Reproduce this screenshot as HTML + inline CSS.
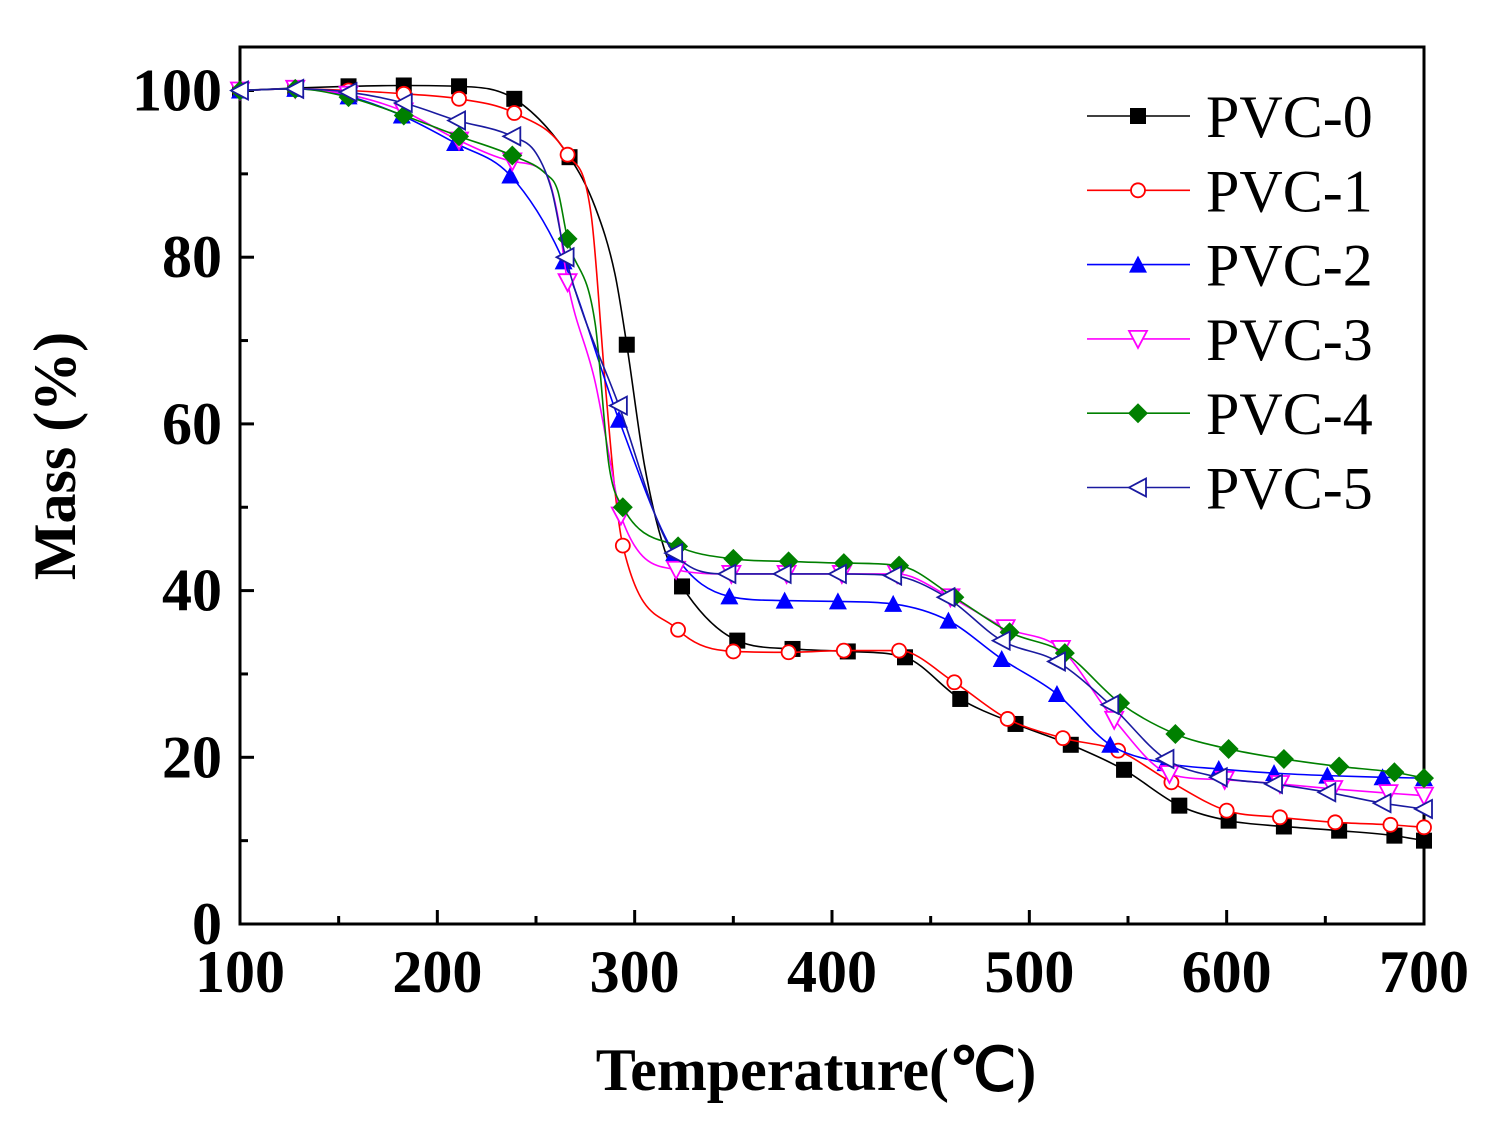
<!DOCTYPE html>
<html><head><meta charset="utf-8"><style>
html,body{margin:0;padding:0;background:#fff;}
svg{display:block;font-family:"Liberation Serif",serif;}
</style></head><body>
<svg id="chart" width="1496" height="1133" viewBox="0 0 1496 1133" xmlns="http://www.w3.org/2000/svg"></svg>
<script>
const xTicks=[100,200,300,400,500,600,700];
const yTicks=[0,20,40,60,80,100];
const seriesNames=["PVC-0","PVC-1","PVC-2","PVC-3","PVC-4","PVC-5"];
const pvc0T=[100,128,155,183,211,239,267,296,324,352,380,408,437,465,493,521,548,576,601,629,657,685,700];
const pvc0M=[100,100.3,100.5,100.6,100.5,99,92,69.5,40.5,34,33,32.7,32,27,24,21.5,18.5,14.2,12.4,11.7,11.2,10.6,10];
const pvc0ExT=[280,290,305,315];
const pvc0ExM=[86,78,55,45];
const pvc1T=[100,128,155,183,211,239,266,294,322,350,378,406,434,462,489,517,545,572,600,627,655,683,700];
const pvc1M=[100,100.2,100,99.6,99,97.3,92.3,45.4,35.3,32.7,32.6,32.8,32.8,29,24.6,22.3,20.8,17,13.6,12.8,12.2,11.9,11.6];
const pvc1ExT=[278,285,290];
const pvc1ExM=[85,65,52];
const pvc2T=[100,128,155,182,209,237,264,292,320,348,376,403,431,459,486,514,541,569,596,624,651,679,700];
const pvc2M=[100,100.2,99.3,97,93.7,89.8,79.5,60.5,44.5,39.3,38.8,38.7,38.4,36.4,31.8,27.6,21.5,19.3,18.6,18.1,17.8,17.6,17.5];
const pvc2ExT=[];
const pvc2ExM=[];
const pvc3T=[100,128,155,183,211,238,266,293,321,349,377,405,433,460,488,516,543,571,599,627,654,682,700];
const pvc3M=[100,100.2,99.5,97.5,94,91.5,77,49,42.5,42,42,42,42,39.2,35.5,33,24.5,18,17.3,16.8,16.2,15.7,15.4];
const pvc3ExT=[255,261,280,288];
const pvc3ExM=[90,85,65,55];
const pvc4T=[100,128,155,183,211,238,266,294,322,350,378,406,434,462,490,518,546,574,601,629,657,685,700];
const pvc4M=[100,100.2,99.2,97,94.5,92.2,82.2,50,45.3,43.8,43.5,43.3,43,39.2,35,32.5,26.5,22.8,21,19.8,18.9,18.2,17.5];
const pvc4ExT=[255,261,280,287];
const pvc4ExM=[90,88,72,55];
const pvc5T=[100,128,155,183,210,238,265,292,320,347,375,403,431,458,486,514,541,569,596,624,651,679,700];
const pvc5M=[100,100.2,99.8,98.5,96.4,94.5,80,62.2,44.5,42,42,42,41.8,39.2,34,31.5,26.3,19.8,17.6,16.8,15.8,14.5,13.8];
const pvc5ExT=[250,258];
const pvc5ExM=[92.5,88];

const NS="http://www.w3.org/2000/svg";
const svg=document.getElementById('chart');
const X0=240,X1=1424,Y0=924,YT=47;
const xs=t=>X0+(t-100)*(X1-X0)/600;
const ys=m=>Y0-m*(Y0-90.5)/100;
function mk(tag,attrs,parent){const e=document.createElementNS(NS,tag);for(const k in attrs)e.setAttribute(k,attrs[k]);(parent||svg).appendChild(e);return e;}

const frame=mk('rect',{x:X0,y:YT,width:X1-X0,height:Y0-YT,fill:'none',stroke:'#000','stroke-width':3});



for(let t=100;t<=700;t+=50){const major=(t%100===0);const l=mk('line',{x1:xs(t),x2:xs(t),y1:Y0,y2:Y0-(major?14:8),stroke:'#000','stroke-width':3});

}
xTicks.forEach(t=>{const tx=mk('text',{x:xs(t),y:992,'text-anchor':'middle','font-size':60,'font-weight':'bold'});tx.textContent=t;

});
for(let m=0;m<=100;m+=10){const major=(m%20===0);const l=mk('line',{x1:X0,x2:X0+(major?14:8),y1:ys(m),y2:ys(m),stroke:'#000','stroke-width':3});

}
yTicks.forEach(m=>{const tx=mk('text',{x:222,y:ys(m)+20,'text-anchor':'end','font-size':60,'font-weight':'bold'});tx.textContent=m;

});
const xt=mk('text',{x:816,y:1090,'text-anchor':'middle','font-size':60,'font-weight':'bold'});xt.textContent='Temperature(℃)';


const yt=mk('text',{x:0,y:0,'text-anchor':'middle','font-size':60,'font-weight':'bold',transform:'translate(75,456) rotate(-90)'});yt.textContent='Mass (%)';



function monoPath(px,py){const n=px.length;const d=[],m=new Array(n);for(let i=0;i<n-1;i++)d.push((py[i+1]-py[i])/(px[i+1]-px[i]));
m[0]=d[0];m[n-1]=d[n-2];for(let i=1;i<n-1;i++){m[i]=(d[i-1]*d[i]<=0)?0:(d[i-1]+d[i])/2;}
for(let i=0;i<n-1;i++){if(d[i]===0){m[i]=0;m[i+1]=0;continue;}const a=m[i]/d[i],b=m[i+1]/d[i],s=a*a+b*b;if(s>9){const t=3/Math.sqrt(s);m[i]=t*a*d[i];m[i+1]=t*b*d[i];}}
let p='M'+px[0]+','+py[0];for(let i=0;i<n-1;i++){const h=px[i+1]-px[i];p+=' C'+(px[i]+h/3)+','+(py[i]+m[i]*h/3)+' '+(px[i+1]-h/3)+','+(py[i+1]-m[i+1]*h/3)+' '+px[i+1]+','+py[i+1];}return p;}

function marker(kind,cx,cy,color,parent){const r=8;let e;
if(kind==='square')e=mk('rect',{x:cx-r,y:cy-r,width:2*r,height:2*r,fill:color},parent);
else if(kind==='circle')e=mk('circle',{cx:cx,cy:cy,r:r-1,fill:'#fff',stroke:color,'stroke-width':1.8},parent);
else if(kind==='up')e=mk('polygon',{points:`${cx},${cy-r-1} ${cx+r+1},${cy+r} ${cx-r-1},${cy+r}`,fill:color},parent);
else if(kind==='down')e=mk('polygon',{points:`${cx-r-1},${cy-r} ${cx+r+1},${cy-r} ${cx},${cy+r+1}`,fill:'#fff',stroke:color,'stroke-width':1.8},parent);
else if(kind==='diamond')e=mk('polygon',{points:`${cx},${cy-r-2} ${cx+r+2},${cy} ${cx},${cy+r+2} ${cx-r-2},${cy}`,fill:color},parent);
else e=mk('polygon',{points:`${cx-r-1},${cy} ${cx+r},${cy-r-1} ${cx+r},${cy+r+1}`,fill:'#fff',stroke:color,'stroke-width':1.8},parent);
return e;}

const series=[
 {T:pvc0T,M:pvc0M,eT:pvc0ExT,eM:pvc0ExM,c:'#000000',k:'square'},
 {T:pvc1T,M:pvc1M,eT:pvc1ExT,eM:pvc1ExM,c:'#ff0000',k:'circle'},
 {T:pvc2T,M:pvc2M,eT:pvc2ExT,eM:pvc2ExM,c:'#0000ff',k:'up'},
 {T:pvc3T,M:pvc3M,eT:pvc3ExT,eM:pvc3ExM,c:'#ff00ff',k:'down'},
 {T:pvc4T,M:pvc4M,eT:pvc4ExT,eM:pvc4ExM,c:'#008000',k:'diamond'},
 {T:pvc5T,M:pvc5M,eT:pvc5ExT,eM:pvc5ExM,c:'#1a1aa0',k:'left'}];
series.forEach((s,si)=>{
 const g=mk('g',{});
 
 
 const pts=s.T.map((t,i)=>[t,s.M[i]]).concat(s.eT.map((t,i)=>[t,s.eM[i]])).sort((a,b)=>a[0]-b[0]);
 const path=mk('path',{d:monoPath(pts.map(p=>xs(p[0])),pts.map(p=>ys(p[1]))),fill:'none',stroke:s.c,'stroke-width':1.6},g);
 
 
 s.T.forEach((t,i)=>{const e=marker(s.k,xs(t),ys(s.M[i]),s.c,g);
  
  });
 const ly=116+si*74.3;
 const lg=mk('g',{});
 
 
 mk('line',{x1:1087,x2:1190,y1:ly,y2:ly,stroke:s.c,'stroke-width':1.6},lg);
 marker(s.k,1138,ly,s.c,lg);
 const tx=mk('text',{x:1206,y:ly+21,'font-size':60},lg);tx.textContent=seriesNames[si];
});
</script>
</body></html>
